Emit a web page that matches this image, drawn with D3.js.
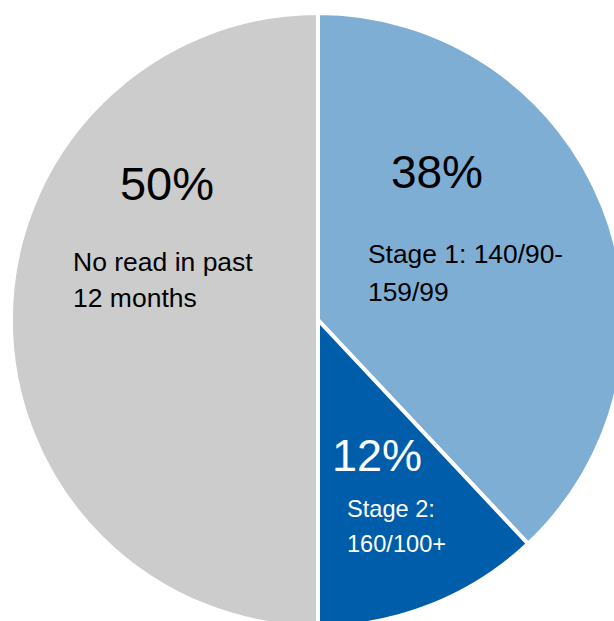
<!DOCTYPE html>
<html><head><meta charset="utf-8">
<script src="https://cdn.jsdelivr.net/npm/d3@7"></script>
<style>html,body{margin:0;padding:0;background:#fff;}svg{display:block;font-family:"Liberation Sans",Arial,sans-serif;}</style>
</head><body>
<svg id="c" width="614" height="621"></svg>
<script>
const categories = ["Stage 1: 140/90-159/99", "Stage 2: 160/100+", "No read in past 12 months"];
const values = [38, 12, 50];
const pctLabels = ["38%", "12%", "50%"];
const descLines = [["Stage 1: 140/90-", "159/99"], ["Stage 2:", "160/100+"], ["No read in past", "12 months"]];
const colors = ["#7FAED4", "#005DAA", "#CCCCCC"];

const svg = d3.select("#c");
const cx = 318, cy = 320, r = 307;
const g = svg.append("g").attr("transform", `translate(${cx},${cy})`);
const pie = d3.pie().sort(null).value(d => d)(values);
const arc = d3.arc().innerRadius(0).outerRadius(r);
g.selectAll("path").data(pie).join("path")
  .attr("d", arc).attr("fill", (d,i) => colors[i])
  .attr("stroke", "#fff").attr("stroke-width", 4).attr("stroke-linejoin", "miter");

// label layout (offsets from center)
const layout = [
  {px: 437 - cx, py: 188 - cy, ps: 46, tx: 368 - cx, ty: 263 - cy, ts: 26.4, lh: 38, col: "#000"},
  {px: 377 - cx, py: 471 - cy, ps: 45, tx: 347 - cx, ty: 517 - cy, ts: 23.6, lh: 35, col: "#fff"},
  {px: 167 - cx, py: 200 - cy, ps: 47, tx: 73 - cx, ty: 271 - cy, ts: 26.5, lh: 36, col: "#000"}
];
pie.forEach((d, i) => {
  const L = layout[i];
  g.append("text").attr("x", L.px).attr("y", L.py).attr("text-anchor", "middle")
    .attr("font-size", L.ps).attr("fill", L.col).text(pctLabels[i]);
  descLines[i].forEach((ln, j) => {
    g.append("text").attr("x", L.tx).attr("y", L.ty + j * L.lh)
      .attr("font-size", L.ts).attr("fill", L.col).text(ln);
  });
});
</script>
</body></html>
